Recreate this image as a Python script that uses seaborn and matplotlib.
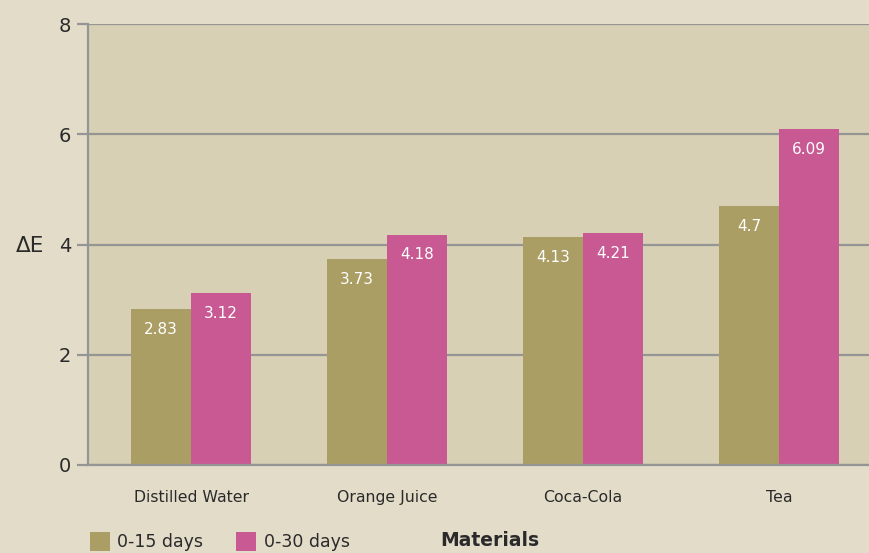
import matplotlib
matplotlib.use("Agg")
import matplotlib.pyplot as plt
import seaborn as sns
import pandas as pd

materials = ["Distilled Water", "Orange Juice", "Coca-Cola", "Tea"]
days_15 = [2.83, 3.73, 4.13, 4.7]
days_30 = [3.12, 4.18, 4.21, 6.09]
series_names = ["0-15 days", "0-30 days"]
y_ticks = [0, 2, 4, 6, 8]

df = pd.DataFrame({
    "Materials": materials * 2,
    "dE": days_15 + days_30,
    "Period": [series_names[0]] * len(materials) + [series_names[1]] * len(materials),
})

sns.set_theme(style="white")
plt.rcParams["font.family"] = ["DejaVu Sans"]

fig_bg = "#e2dcc9"
ax_bg = "#d7d0b4"
olive = "#aa9e64"
pink = "#c85993"
grid_c = "#959595"
text_c = "#2a2a2a"

fig = plt.figure(figsize=(8.69, 5.53), dpi=100, facecolor=fig_bg)
ax = fig.add_axes([88 / 869, 88 / 553, 1 - 88 / 869, (465 - 24) / 553])
ax.set_facecolor(ax_bg)

sns.barplot(data=df, x="Materials", y="dE", hue="Period", hue_order=series_names,
            palette=[olive, pink], width=0.61, gap=0, saturation=1,
            ax=ax, legend=True, errorbar=None, linewidth=0)

for cont, vals in zip(ax.containers, [days_15, days_30]):
    ax.bar_label(cont, labels=[f"{v:g}" for v in vals], padding=-20,
                 color="white", fontsize=11)

ax.set_ylim(0, 8)
ax.set_xlim(-0.526, 3.46)
ax.set_yticks(y_ticks)
ax.yaxis.grid(True, color=grid_c, linewidth=1.6)
ax.set_axisbelow(True)
for s in ["top", "right"]:
    ax.spines[s].set_visible(False)
for s in ["left", "bottom"]:
    ax.spines[s].set_color(grid_c)
    ax.spines[s].set_linewidth(1.6)
ax.tick_params(axis="y", left=True, length=8, width=1.6, color=grid_c,
               labelsize=14, labelcolor=text_c, pad=4)
ax.tick_params(axis="x", bottom=False, labelsize=11.3, labelcolor=text_c, pad=12)
ax.set_xlabel("")
ax.set_ylabel("")

handles, labels = ax.get_legend_handles_labels()
ax.get_legend().remove()
fig.legend(handles, labels, loc="lower left", bbox_to_anchor=(74 / 869, -0.025),
           ncol=2, frameon=False, fontsize=12.5, handlelength=1.15, handleheight=1.35,
           handletextpad=0.45, columnspacing=1.9, labelcolor=text_c)

fig.text(30 / 869, 1 - 246 / 553, "ΔE", fontsize=15.5, color=text_c,
         ha="center", va="center")
fig.text(490 / 869, 1 - 540 / 553, "Materials", fontsize=13.5, color=text_c,
         fontweight="bold", ha="center", va="center")

fig.savefig("out.png", dpi=100, facecolor=fig_bg)
